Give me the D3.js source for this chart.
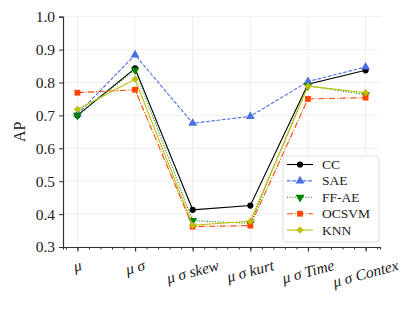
<!DOCTYPE html>
<html lang="en">
  <head>
    <meta charset="UTF-8">
    <script src="https://cdn.jsdelivr.net/npm/d3@7"></script>
    <style>
      body { margin: 0; background: #fff; }
      text { font-family: 'Liberation Serif', 'DejaVu Serif', serif; fill: #222; }
    </style>
    <title>AP per feature set</title>
  </head>
  <body>
    <script>
      // AP of each detector over the feature sets

      const categories = ['μ', 'μ σ', 'μ σ skew', 'μ σ kurt', 'μ σ Time', 'μ σ Contex'];
      const yTicks = [0.3, 0.4, 0.5, 0.6, 0.7, 0.8, 0.9, 1.0];

      const cc    = [0.700, 0.843, 0.413, 0.426, 0.795, 0.837];
      const sae   = [0.704, 0.884, 0.676, 0.697, 0.803, 0.847];
      const ffae  = [0.700, 0.838, 0.380, 0.372, 0.790, 0.763];
      const ocsvm = [0.769, 0.778, 0.362, 0.365, 0.750, 0.754];
      const knn   = [0.718, 0.810, 0.366, 0.378, 0.789, 0.769];

      const series = [
        { name: 'CC',    values: cc,    color: '#000000', dash: null,          marker: 'circle' },
        { name: 'SAE',   values: sae,   color: '#4a6fe3', dash: '3.7,1.6',     marker: 'up' },
        { name: 'FF-AE', values: ffae,  color: '#008000', dash: '1,1.65',      marker: 'down' },
        { name: 'OCSVM', values: ocsvm, color: '#ff4500', dash: '6.4,1.6,1,1.6', marker: 'square' },
        { name: 'KNN',   values: knn,   color: '#bfbf00', dash: null,          marker: 'diamond' }
      ];

      const w = 416, h = 309;
      const mLeft = 63, mRight = 380, mTop = 16.7, mBottom = 247;

      const svg = d3.select('body').append('svg')
                    .attr('width', w).attr('height', h);

      const x = d3.scaleLinear().domain([-0.25, 5.25]).range([mLeft, mRight]);
      const y = d3.scaleLinear().domain([0.3, 1.0]).range([mBottom, mTop]);

      // grid
      svg.append('g').selectAll('line').data(yTicks).enter().append('line')
         .attr('x1', mLeft).attr('x2', mRight)
         .attr('y1', d => y(d)).attr('y2', d => y(d))
         .attr('stroke', '#ebebeb').attr('stroke-width', 0.8);
      svg.append('g').selectAll('line').data(d3.range(categories.length)).enter().append('line')
         .attr('x1', d => x(d)).attr('x2', d => x(d))
         .attr('y1', mTop).attr('y2', mBottom)
         .attr('stroke', '#ebebeb').attr('stroke-width', 0.8);

      // y axis
      const yAxis = svg.append('g')
         .attr('transform', `translate(${mLeft},0)`)
         .call(d3.axisLeft(y).tickValues(yTicks).tickFormat(d3.format('.1f')).tickSize(4).tickPadding(4));
      yAxis.select('.domain').attr('stroke', '#333').attr('stroke-width', 1.2);
      yAxis.selectAll('.tick line').attr('stroke', '#333');
      yAxis.selectAll('text').attr('font-size', 15.5).attr('fill', '#222');

      // x axis: minor ticks then major
      const minor = d3.range(-0.2, 5.21, 0.2).map(d => Math.round(d * 10) / 10);
      const xMinor = svg.append('g')
         .attr('transform', `translate(0,${mBottom})`)
         .call(d3.axisBottom(x).tickValues(minor).tickFormat('').tickSize(2.5));
      xMinor.select('.domain').attr('stroke', '#333').attr('stroke-width', 1.2);
      xMinor.selectAll('.tick line').attr('stroke', '#333');

      const xAxis = svg.append('g')
         .attr('transform', `translate(0,${mBottom})`)
         .call(d3.axisBottom(x).tickValues(d3.range(categories.length)).tickFormat('').tickSize(4.5));
      xAxis.select('.domain').remove();
      xAxis.selectAll('.tick line').attr('stroke', '#333').attr('stroke-width', 1.2);

      // rotated x labels, centered on tick like matplotlib
      const ang = 15 * Math.PI / 180;
      const fsX = 15.5;
      categories.forEach((c, i) => {
        const t = svg.append('text')
           .attr('font-size', fsX).attr('font-style', 'italic')
           .attr('text-anchor', 'middle').attr('dominant-baseline', 'central')
           .text(c);
        const tw = t.node().getComputedTextLength();
        const bh = tw * Math.sin(ang) + fsX * Math.cos(ang);
        const cy = mBottom + 10 + bh / 2;
        t.attr('transform', `translate(${x(i)},${cy}) rotate(-15)`);
      });

      // y label
      svg.append('text')
         .attr('transform', `translate(19,${(mTop + mBottom) / 2}) rotate(-90)`)
         .attr('text-anchor', 'middle').attr('dominant-baseline', 'central')
         .attr('font-size', 16).text('AP');

      const symbolPath = m => {
        if (m === 'circle') return d3.symbol(d3.symbolCircle, 30)();
        if (m === 'up' || m === 'down') return d3.symbol(d3.symbolTriangle, 34)();
        if (m === 'square') return d3.symbol(d3.symbolSquare, 34)();
        return d3.symbol(d3.symbolSquare, 26)();
      };
      const symbolRot = m => m === 'down' ? 180 : (m === 'diamond' ? 45 : 0);

      const line = d3.line().x((d, i) => x(i)).y(d => y(d));

      series.forEach(s => {
        const g = svg.append('g');
        g.append('path')
         .attr('d', line(s.values))
         .attr('fill', 'none').attr('stroke', s.color).attr('stroke-width', 1.1)
         .attr('stroke-dasharray', s.dash);
        g.selectAll('path.m').data(s.values).enter().append('path')
         .attr('class', 'm')
         .attr('d', symbolPath(s.marker))
         .attr('transform', (d, i) => `translate(${x(i)},${y(d)}) rotate(${symbolRot(s.marker)})`)
         .attr('fill', s.color);
      });

      // legend
      const lg = svg.append('g');
      lg.append('rect')
        .attr('x', 283).attr('y', 156).attr('width', 96).attr('height', 86)
        .attr('rx', 3).attr('fill', 'rgba(255,255,255,0.85)')
        .attr('stroke', '#d6d6d6').attr('stroke-width', 0.8);
      series.forEach((s, i) => {
        const ly = 164.5 + i * 16.4;
        lg.append('line')
          .attr('x1', 287).attr('x2', 313).attr('y1', ly).attr('y2', ly)
          .attr('stroke', s.color).attr('stroke-width', 1.1)
          .attr('stroke-dasharray', s.dash);
        lg.append('path')
          .attr('d', symbolPath(s.marker))
          .attr('transform', `translate(300,${ly}) rotate(${symbolRot(s.marker)})`)
          .attr('fill', s.color);
        lg.append('text')
          .attr('x', 322).attr('y', ly).attr('dominant-baseline', 'central')
          .attr('font-size', 13.5).text(s.name);
      });
    </script>
  </body>
</html>
